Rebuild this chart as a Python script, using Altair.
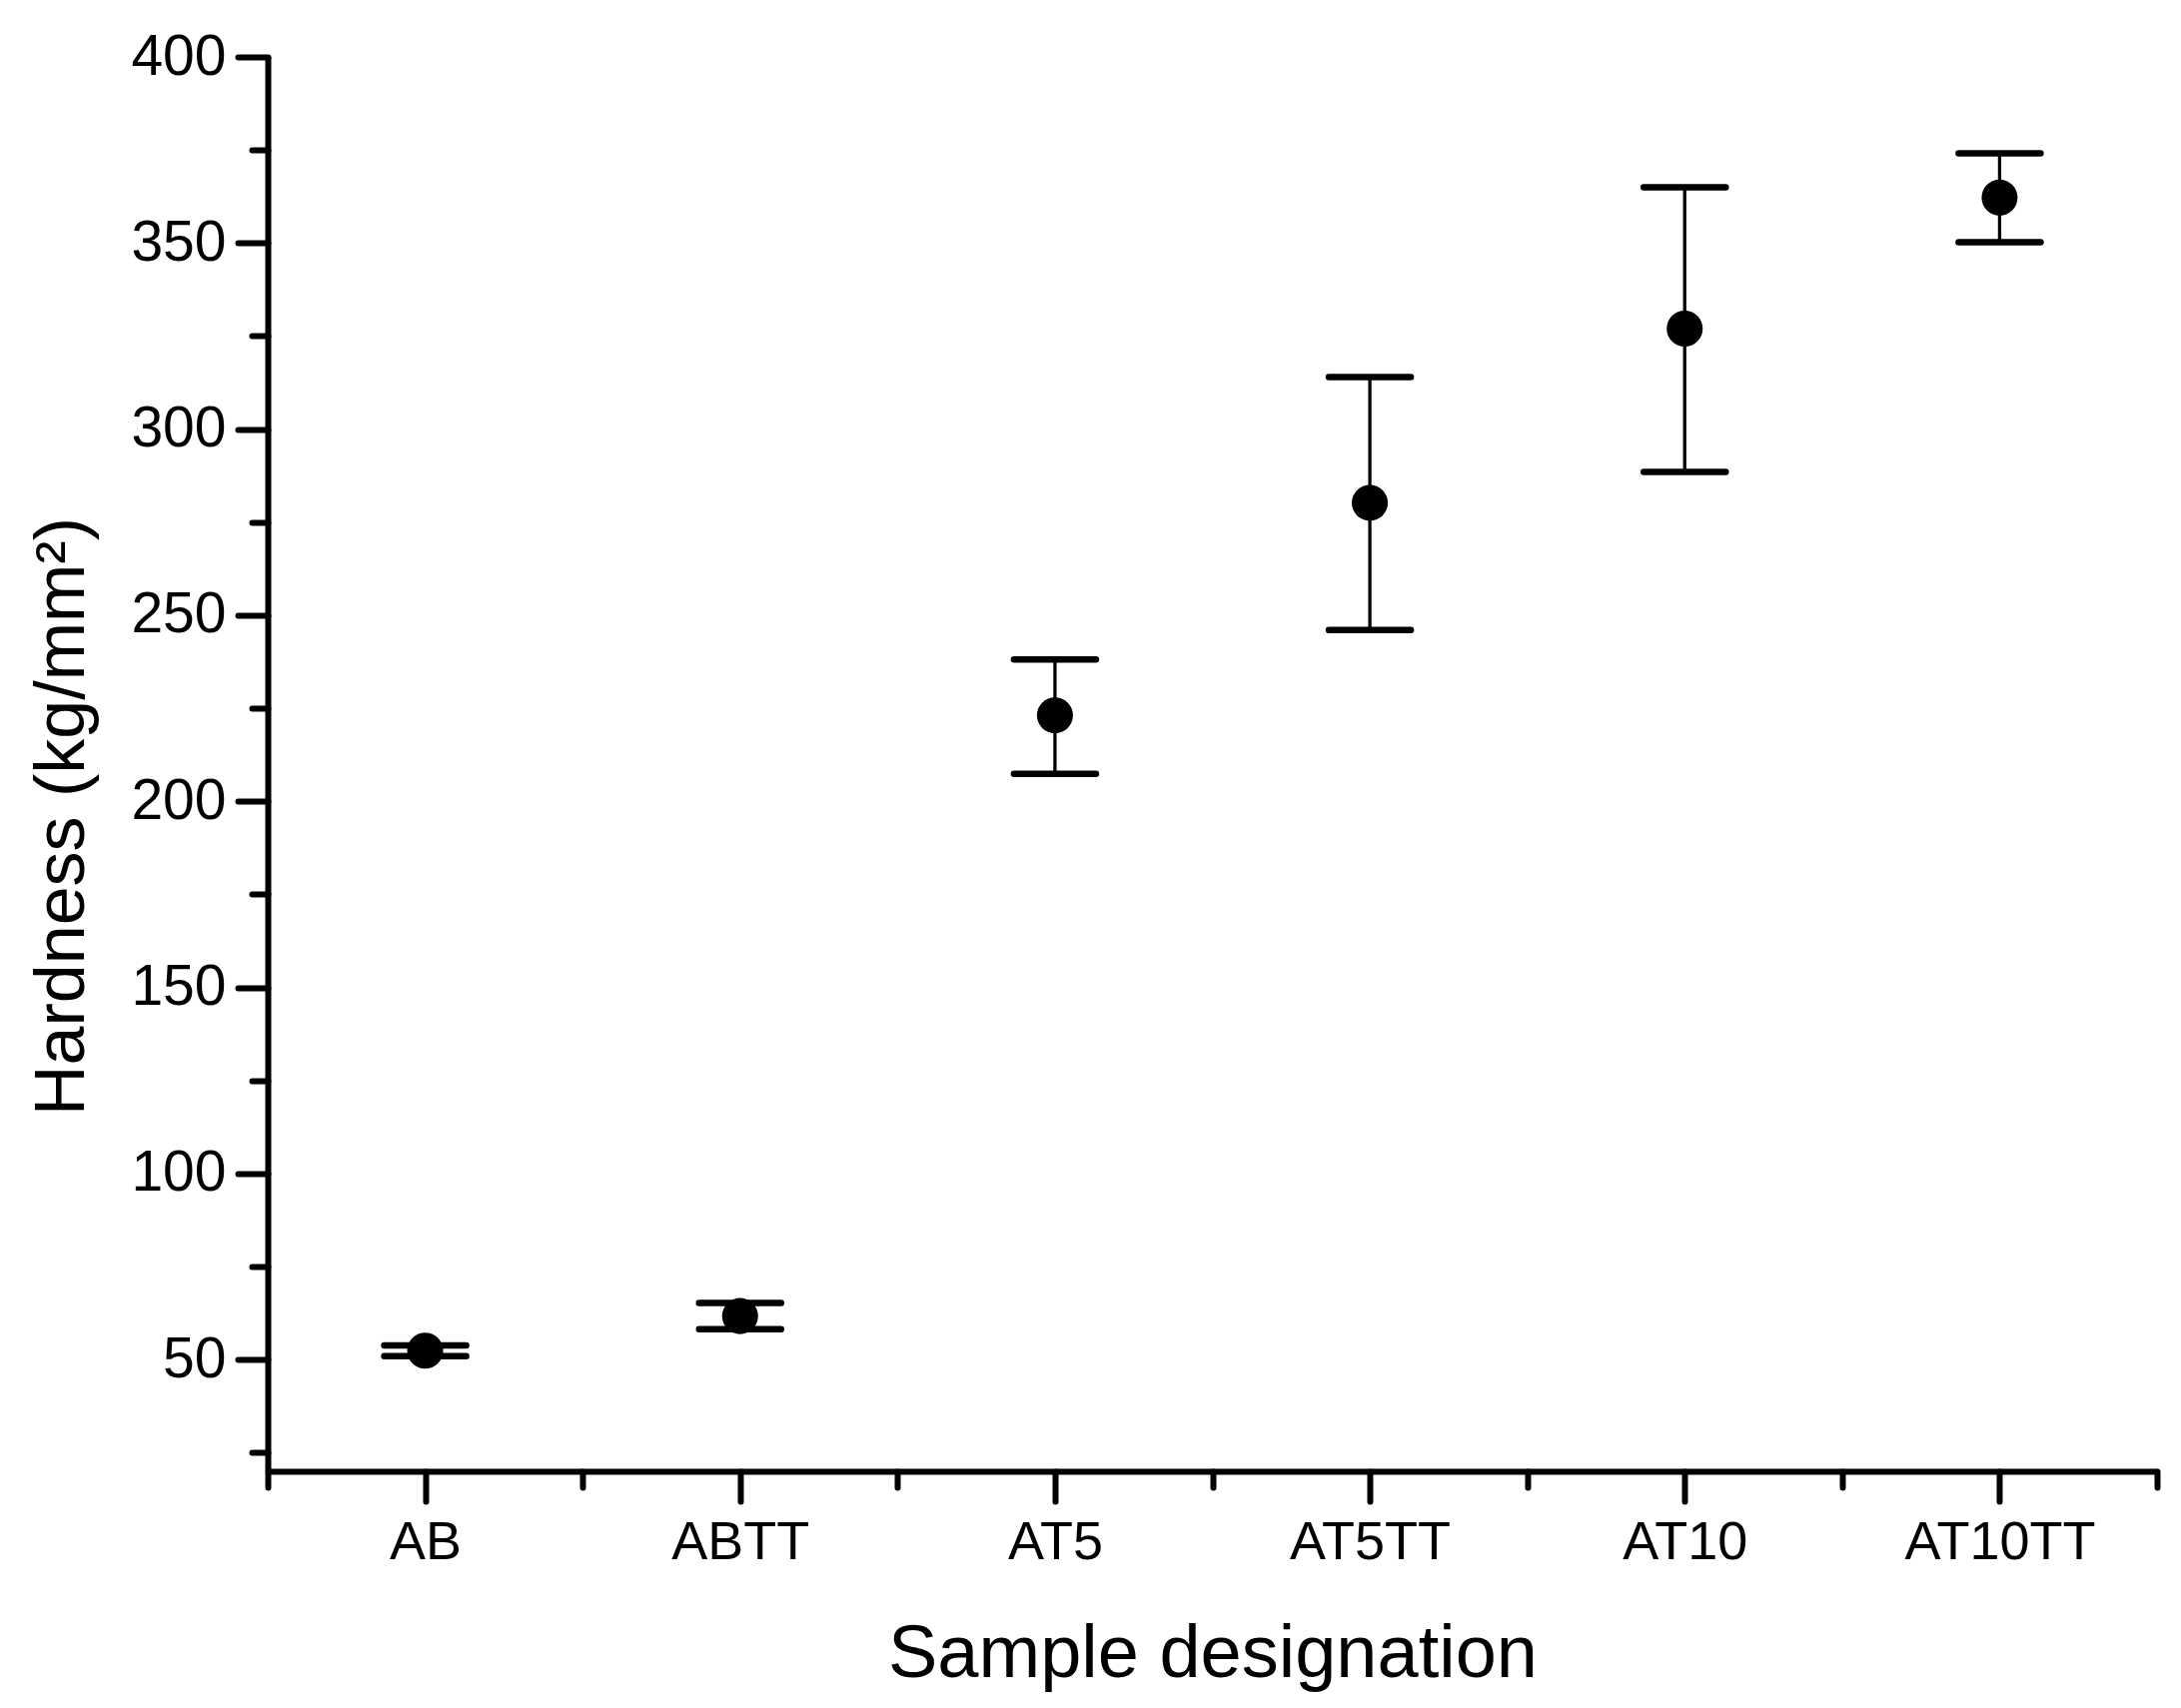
import json
import altair as alt
import pandas as pd

# ---- data ----
samples = ["AB", "ABTT", "AT5", "AT5TT", "AT10", "AT10TT"]
hardness = [52.4, 61.7, 223.1, 280.2, 327.0, 362.2]
err_low = [50.9, 58.2, 207.4, 246.0, 288.5, 350.2]
err_high = [53.8, 65.2, 238.1, 314.0, 365.0, 374.1]

y_major = [50, 100, 150, 200, 250, 300, 350, 400]
y_minor = [25, 75, 125, 175, 225, 275, 325, 375]
x_minor = [-0.5, 0.5, 1.5, 2.5, 3.5, 4.5, 5.5]

df = pd.DataFrame({
    "sample": samples,
    "idx": list(range(len(samples))),
    "hardness": hardness,
    "lo": err_low,
    "hi": err_high,
})

FONT = "Liberation Sans"
label_expr = json.dumps(samples) + "[round(datum.value)]"

xscale = alt.Scale(domain=[-0.5, len(samples) - 0.5], nice=False, zero=False)
yscale = alt.Scale(domain=[20, 400], nice=False, zero=False)

common_axis = dict(
    grid=False,
    domainColor="black",
    domainWidth=6,
    tickColor="black",
    tickWidth=6,
    tickCap="round",
    labelColor="black",
    labelFont=FONT,
    titleFont=FONT,
    titleColor="black",
    titleFontWeight="normal",
)

x_axis_major = alt.Axis(
    orient="bottom",
    values=list(range(len(samples))),
    labelExpr=label_expr,
    tickSize=30,
    labelFontSize=54,
    labelPadding=14,
    labelFlush=False,
    labelLimit=0,
    title="Sample designation",
    titleFontSize=74,
    titleBaseline="alphabetic",
    titleY=205,
    **common_axis,
)
y_axis_major = alt.Axis(
    orient="left",
    values=y_major,
    tickSize=30,
    labelFontSize=57,
    labelPadding=12,
    labelFlush=False,
    labelLimit=0,
    title="Hardness (kg/mm²)",
    titleFontSize=70,
    titleAngle=270,
    titleAlign="center",
    titleBaseline="middle",
    titleX=-206,
    titleY=760,
    **common_axis,
)

x_axis_minor = alt.Axis(
    orient="bottom", values=x_minor, labels=False, domain=False,
    tickSize=16, title=None, grid=False, tickColor="black", tickWidth=6,
    tickCap="round",
)
y_axis_minor = alt.Axis(
    orient="left", values=y_minor, labels=False, domain=False,
    tickSize=16, title=None, grid=False, tickColor="black", tickWidth=6,
    tickCap="round",
)

base = alt.Chart(df)

points = base.mark_point(filled=True, shape="circle", size=1300, color="black", opacity=1).encode(
    x=alt.X("idx:Q", scale=xscale, axis=x_axis_major),
    y=alt.Y("hardness:Q", scale=yscale, axis=y_axis_major),
)

bars = base.mark_rule(color="black", strokeWidth=3.3).encode(
    x=alt.X("idx:Q", scale=xscale, axis=None),
    y=alt.Y("lo:Q", scale=yscale, axis=None),
    y2="hi:Q",
)

caps = base.transform_fold(["lo", "hi"], as_=["end", "val"]).mark_rule(
    color="black", strokeWidth=6.5, strokeCap="round", xOffset=-41, x2Offset=41
).encode(
    x=alt.X("idx:Q", scale=xscale, axis=None),
    x2=alt.X2("idx:Q"),
    y=alt.Y("val:Q", scale=yscale, axis=None),
)

minor = base.mark_point(opacity=0).encode(
    x=alt.X("idx:Q", scale=xscale, axis=x_axis_minor),
    y=alt.Y("hardness:Q", scale=yscale, axis=y_axis_minor),
)

chart = alt.layer(bars, caps, points, minor).resolve_axis(
    x="independent", y="independent"
).properties(
    width=1891,
    height=1416,
    background="white",
    autosize=alt.AutoSizeParams(type="none"),
    padding={"left": 260, "top": 49, "right": 10, "bottom": 229},
).configure_view(stroke=None)

chart.save("out.html", embed_options={"renderer": "svg", "actions": False})
